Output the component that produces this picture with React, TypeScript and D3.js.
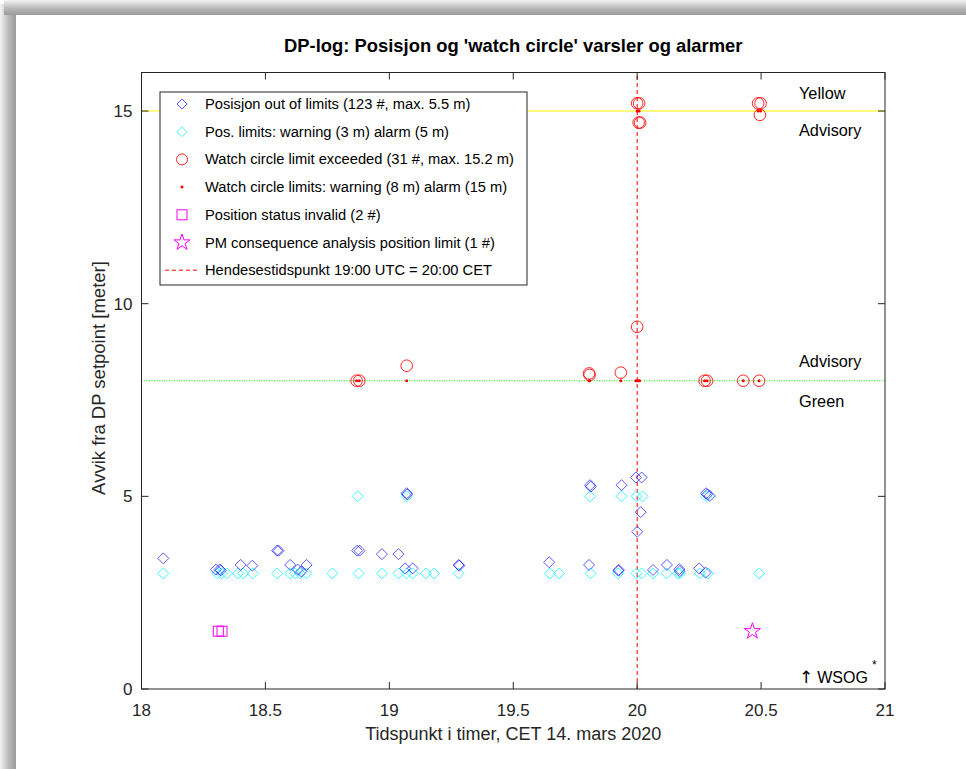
import * as d3 from "d3";

// Blue diamonds: position out of limits (time [h], deviation [m])
const posOutTimes = [
  18.088, 18.3, 18.315, 18.32, 18.4, 18.447, 18.547, 18.553, 18.6, 18.63, 18.645, 18.666,
  18.87, 18.88, 18.97, 19.037, 19.064, 19.07, 19.072, 19.094, 19.28, 19.282, 19.645,
  19.806, 19.81, 19.813, 19.924, 19.926, 19.937, 19.995, 20.0, 20.014, 20.018, 20.064,
  20.12, 20.17, 20.172, 20.25, 20.276, 20.278, 20.283, 20.293,
];
const posOutValues = [
  3.39, 3.1, 3.1, 3.08, 3.22, 3.2, 3.59, 3.59, 3.22, 3.1, 3.05, 3.22,
  3.59, 3.59, 3.5, 3.5, 3.13, 5.08, 5.05, 3.13, 3.22, 3.2, 3.29,
  3.22, 5.29, 5.25, 3.07, 3.09, 5.29, 5.49, 4.08, 4.59, 5.49, 3.09,
  3.22, 3.11, 3.06, 3.13, 3.02, 5.08, 5.05, 5.01,
];

// Cyan diamonds: position limits (warning 3 m / alarm 5 m)
const posLimitTimes = [
  18.088, 18.306, 18.323, 18.344, 18.39, 18.41, 18.449, 18.547, 18.6, 18.62, 18.64, 18.666,
  18.77, 18.876, 18.97, 19.037, 19.07, 19.094, 19.148, 19.18, 19.28, 19.648, 19.685,
  19.812, 19.923, 19.997, 20.018, 20.064, 20.119, 20.166, 20.172, 20.253, 20.286, 20.492,
  18.872, 19.07, 19.81, 19.937, 19.997, 20.022, 20.28,
];
const posLimitValues = [
  3, 3, 3, 3, 3, 3, 3, 3, 3, 3, 3, 3,
  3, 3, 3, 3, 3, 3, 3, 3, 3, 3, 3,
  3, 3, 3, 3, 3, 3, 3, 3, 3, 3, 3,
  5, 5, 5, 5, 5, 5, 5,
];

// Red circles: watch circle limit exceeded
const wcTimes = [
  18.868, 18.879, 19.07, 19.806, 19.808, 19.934, 20.0, 20.0, 20.008, 20.006, 20.012,
  20.272, 20.282, 20.428, 20.492, 20.488, 20.498, 20.495,
];
const wcValues = [
  8.0, 8.0, 8.39, 8.19, 8.15, 8.21, 9.4, 15.2, 15.2, 14.7, 14.7,
  8.0, 8.0, 8.0, 8.0, 15.2, 15.2, 14.9,
];

// Red dots: watch circle limits (warning 8 m / alarm 15 m)
const wcLimitTimes = [
  18.868, 18.879, 19.07, 19.806, 19.808, 19.934, 19.995, 20.0, 20.005, 20.01,
  20.272, 20.282, 20.428, 20.492, 20.0, 20.008, 20.488, 20.498,
];
const wcLimitValues = [8, 8, 8, 8, 8, 8, 8, 8, 8, 8, 8, 8, 8, 8, 15, 15, 15, 15];

// Magenta squares: position status invalid
const invalidTimes = [18.31, 18.325];
const invalidValues = [1.5, 1.5];

// Magenta star: PM consequence analysis
const pmTimes = [20.465];
const pmValues = [1.5];

const eventTime = 20;
const xTicks = [18, 18.5, 19, 19.5, 20, 20.5, 21];
const yTicks = [0, 5, 10, 15];

const legendLabels = [
  "Posisjon out of limits (123 #, max. 5.5 m)",
  "Pos. limits: warning (3 m) alarm (5 m)",
  "Watch circle limit exceeded (31 #, max. 15.2 m)",
  "Watch circle limits: warning (8 m) alarm (15 m)",
  "Position status invalid (2 #)",
  "PM consequence analysis position limit (1 #)",
  "Hendesestidspunkt 19:00 UTC = 20:00 CET",
];

const W = 966;
const H = 769;
const margin = { left: 141.5, right: 81, top: 72.5, bottom: 80 };
const font = "'Liberation Sans', Arial, Helvetica, sans-serif";
const axisColor = "#262626";

const diamond = (r: number) => `M0,${-r}L${r},0L0,${r}L${-r},0Z`;
const star = (R: number) => {
  const pts: string[] = [];
  for (let i = 0; i < 10; i++) {
    const r = i % 2 === 0 ? R : R * 0.382;
    const a = -Math.PI / 2 + (i * Math.PI) / 5;
    pts.push(`${(r * Math.cos(a)).toFixed(2)},${(r * Math.sin(a)).toFixed(2)}`);
  }
  return "M" + pts.join("L") + "Z";
};

export default function App() {
  const x = d3.scaleLinear().domain([18, 21]).range([margin.left, W - margin.right]);
  const y = d3.scaleLinear().domain([0, 16]).range([H - margin.bottom, margin.top]);
  const [x0, x1] = x.range();
  const [y0, y1] = y.range();

  const blue = { stroke: "#0000ff", strokeOpacity: 0.65, fill: "none", strokeWidth: 1 };
  const cyan = { stroke: "#00ffff", strokeOpacity: 0.75, fill: "none", strokeWidth: 1 };
  const red = { stroke: "#ff0000", strokeOpacity: 0.85, fill: "none", strokeWidth: 1 };
  const magenta = { stroke: "#ff00ff", fill: "none", strokeWidth: 1 };

  const legendX = 182;
  const legendY = (i: number) => 104 + i * 27.7;

  return (
    <svg
      width={W}
      height={H}
      style={{ position: "absolute", left: 0, top: 0, display: "block" }}
      fontFamily={font}
    >
      <defs>
        <linearGradient id="shL" x1="0" x2="1" y1="0" y2="0">
          <stop offset="0" stopColor="#f4f4f4" />
          <stop offset="0.6" stopColor="#b4b4b4" />
          <stop offset="1" stopColor="#9c9c9c" />
        </linearGradient>
        <linearGradient id="shT" x1="0" x2="0" y1="0" y2="1">
          <stop offset="0" stopColor="#f4f4f4" />
          <stop offset="0.6" stopColor="#b4b4b4" />
          <stop offset="1" stopColor="#9c9c9c" />
        </linearGradient>
      </defs>
      <rect width={W} height={H} fill="#fff" />
      <rect x={0} y={4} width={16} height={H} fill="url(#shL)" />
      <rect x={4} y={0} width={W} height={15} fill="url(#shT)" />
      <rect x={16} y={15} width={W - 16} height={H - 15} fill="#fff" />

      {/* title */}
      <text x={(x0 + x1) / 2} y={52} textAnchor="middle" fontWeight="bold" fontSize={18.4} fill="#000">
        DP-log: Posisjon og 'watch circle' varsler og alarmer
      </text>

      {/* reference lines */}
      <line x1={x0} x2={x1} y1={y(15)} y2={y(15)} stroke="#ffff00" strokeWidth={1} />
      <line x1={x0} x2={x1} y1={y(8)} y2={y(8)} stroke="#00ee00" strokeWidth={1} strokeDasharray="1,1.5" />
      <line x1={x(eventTime)} x2={x(eventTime)} y1={y0} y2={y1} stroke="#ff0000" strokeWidth={1} strokeDasharray="4,3" />

      {/* cyan limit diamonds */}
      {posLimitTimes.map((t, i) => (
        <path key={"c" + i} d={diamond(5.5)} transform={`translate(${x(t)},${y(posLimitValues[i])})`} {...cyan} />
      ))}
      {/* blue out-of-limit diamonds */}
      {posOutTimes.map((t, i) => (
        <path key={"b" + i} d={diamond(5.5)} transform={`translate(${x(t)},${y(posOutValues[i])})`} {...blue} />
      ))}
      {/* red circles */}
      {wcTimes.map((t, i) => (
        <circle key={"r" + i} cx={x(t)} cy={y(wcValues[i])} r={5.8} {...red} />
      ))}
      {/* red limit dots */}
      {wcLimitTimes.map((t, i) => (
        <circle key={"d" + i} cx={x(t)} cy={y(wcLimitValues[i])} r={1.5} fill="#ff0000" />
      ))}
      {/* magenta squares */}
      {invalidTimes.map((t, i) => (
        <rect key={"s" + i} x={x(t) - 5} y={y(invalidValues[i]) - 5} width={10} height={10} {...magenta} />
      ))}
      {/* star */}
      {pmTimes.map((t, i) => (
        <path key={"p" + i} d={star(8.5)} transform={`translate(${x(t)},${y(pmValues[i])})`} {...magenta} />
      ))}

      {/* axes box */}
      <rect x={x0} y={y1} width={x1 - x0} height={y0 - y1} fill="none" stroke={axisColor} strokeWidth={1} />
      {xTicks.map((t) => (
        <g key={"xt" + t}>
          <line x1={x(t)} x2={x(t)} y1={y0} y2={y0 - 7} stroke={axisColor} />
          <line x1={x(t)} x2={x(t)} y1={y1} y2={y1 + 7} stroke={axisColor} />
          <text x={x(t)} y={y0 + 27} textAnchor="middle" fontSize={17} fill={axisColor}>
            {t}
          </text>
        </g>
      ))}
      {yTicks.map((t) => (
        <g key={"yt" + t}>
          <line x1={x0} x2={x0 + 7} y1={y(t)} y2={y(t)} stroke={axisColor} />
          <line x1={x1} x2={x1 - 7} y1={y(t)} y2={y(t)} stroke={axisColor} />
          <text x={x0 - 9} y={y(t) + 6} textAnchor="end" fontSize={17} fill={axisColor}>
            {t}
          </text>
        </g>
      ))}

      {/* axis labels */}
      <text x={(x0 + x1) / 2} y={y0 + 51} textAnchor="middle" fontSize={18} fill={axisColor}>
        Tidspunkt i timer, CET 14. mars 2020
      </text>
      <text
        transform={`translate(${x0 - 37},${378}) rotate(-90)`}
        textAnchor="middle"
        fontSize={18.5}
        fill={axisColor}
      >
        Avvik fra DP setpoint [meter]
      </text>

      {/* zone labels */}
      <g fontSize={16.3} fill="#000">
        <text x={799} y={99}>Yellow</text>
        <text x={799} y={136}>Advisory</text>
        <text x={799} y={367}>Advisory</text>
        <text x={799} y={407}>Green</text>
        <text x={799} y={683} fontSize={16}>
          <tspan fontFamily="'DejaVu Sans'" fontSize={17}>↑</tspan>
          <tspan dx={4}>WSOG</tspan>
        </text>
        <text x={872} y={669} fontSize={12}>*</text>
      </g>

      {/* legend */}
      <rect x={160} y={92} width={367} height={193} fill="#fff" stroke={axisColor} strokeWidth={1} />
      <path d={diamond(5)} transform={`translate(${legendX},${legendY(0)})`} {...blue} />
      <path d={diamond(5)} transform={`translate(${legendX},${legendY(1)})`} {...cyan} />
      <circle cx={legendX} cy={legendY(2)} r={5.5} {...red} />
      <circle cx={legendX} cy={legendY(3)} r={1.5} fill="#ff0000" />
      <rect x={legendX - 5} y={legendY(4) - 5} width={10} height={10} {...magenta} />
      <path d={star(8.5)} transform={`translate(${legendX},${legendY(5)})`} {...magenta} />
      <line x1={165} x2={199} y1={legendY(6)} y2={legendY(6)} stroke="#ff0000" strokeDasharray="4,3" />
      {legendLabels.map((s, i) => (
        <text key={"l" + i} x={205} y={legendY(i) + 5} fontSize={14.7} fill="#000">
          {s}
        </text>
      ))}
    </svg>
  );
}
